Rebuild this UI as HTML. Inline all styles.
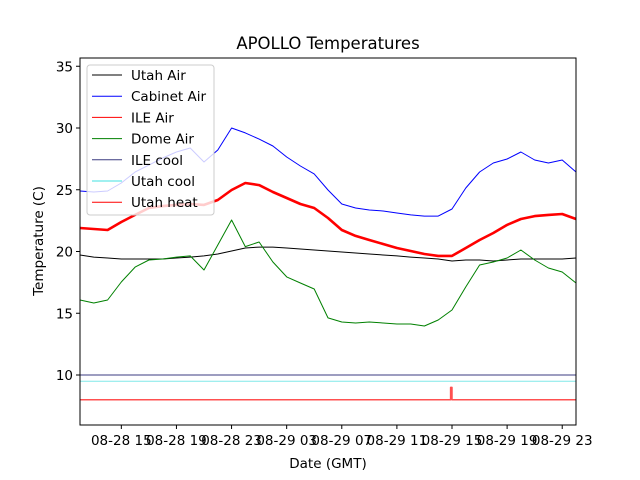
<!DOCTYPE html>
<html><head><meta charset="utf-8"><style>
body{margin:0;background:#fff;}
svg{display:block;font-family:"DejaVu Sans","Liberation Sans",sans-serif;}
</style></head><body>
<svg id="chart" width="640" height="480">
<rect width="640" height="480" fill="#fff"/>
<g id="marks"></g>
<g id="axes"></g>
<g id="legend"></g>
</svg>
<script>
const hours = [12,13,14,15,16,17,18,19,20,21,22,23,24,25,26,27,28,29,30,31,32,33,34,35,36,37,38,39,40,41,42,43,44,45,46,47,48];
const cabinetAir = [24.90,24.82,24.90,25.55,26.44,27.00,27.57,28.06,28.38,27.25,28.22,30.00,29.60,29.10,28.54,27.65,26.92,26.28,24.98,23.85,23.52,23.36,23.28,23.12,22.96,22.87,22.87,23.44,25.14,26.44,27.17,27.49,28.06,27.41,27.17,27.41,26.44];
const ileAir = [21.90,21.82,21.74,22.39,22.96,23.52,23.68,23.77,23.85,23.77,24.17,24.98,25.55,25.38,24.82,24.33,23.85,23.52,22.71,21.74,21.26,20.93,20.61,20.28,20.04,19.80,19.64,19.64,20.28,20.93,21.50,22.15,22.63,22.87,22.96,23.04,22.63];
const utahAir = [19.72,19.55,19.47,19.39,19.39,19.39,19.39,19.47,19.55,19.64,19.80,20.04,20.28,20.36,20.36,20.28,20.20,20.12,20.04,19.96,19.88,19.80,19.72,19.64,19.55,19.47,19.39,19.23,19.31,19.31,19.23,19.31,19.39,19.39,19.39,19.39,19.47];
const domeAir = [16.07,15.83,16.07,17.53,18.74,19.31,19.39,19.55,19.64,18.50,20.53,22.55,20.40,20.77,19.15,17.94,17.45,16.96,14.62,14.29,14.21,14.29,14.21,14.13,14.13,13.97,14.45,15.26,17.13,18.91,19.15,19.47,20.12,19.31,18.66,18.34,17.45];
const ileCool = [10,10];
const utahCool = [9.5,9.5];
const utahHeatHours = [12,38.9,38.9,39.0,39.0,48];
const utahHeat = [8,8,9,9,8,8];
const yTicks = [10,15,20,25,30,35];
const xTickHours = [15,19,23,27,31,35,39,43,47];
const xTickLabels = ["08-28 15","08-28 19","08-28 23","08-29 03","08-29 07","08-29 11","08-29 15","08-29 19","08-29 23"];

const L=80,R=576,T=58,B=425;
function X(h){return L+(h-12)*(R-L)/36;}
function Y(v){return 375-(v-10)*12.35;}
const NS="http://www.w3.org/2000/svg";
function mk(tag,attrs,parent){const e=document.createElementNS(NS,tag);for(const k in attrs)e.setAttribute(k,attrs[k]);parent.appendChild(e);return e;}
const marks=document.getElementById('marks'),axes=document.getElementById('axes'),leg=document.getElementById('legend');

function line(xs,vs,color,w,name){
  const p=xs.map((h,i)=>(i?'L':'M')+X(h).toFixed(1)+','+Y(vs[i]).toFixed(1)).join('');
  const el=mk('path',{d:p,fill:'none',stroke:color,'stroke-width':w,'stroke-linejoin':'round'},marks);
  
  
}
line(hours,utahAir,'#000',1,'utah-air-line');
line(hours,cabinetAir,'#0000ff',1,'cabinet-air-line');
line(hours,ileAir,'#ff0000',2.6,'ile-air-line');
line(hours,domeAir,'#008000',1,'dome-air-line');
line([12,48],ileCool,'#3b3b80',1,'ile-cool-line');
line([12,48],utahCool,'#80e8e8',1,'utah-cool-line');
line(utahHeatHours,utahHeat,'#ff5050',1.5,'utah-heat-line');

const frame=mk('rect',{x:L,y:T,width:R-L,height:B-T,fill:'none',stroke:'#000','stroke-width':1},axes);


yTicks.forEach(v=>{
  mk('line',{x1:L-4,x2:L,y1:Y(v),y2:Y(v),stroke:'#000'},axes);
  const t=mk('text',{x:L-7,y:Y(v)+5,'text-anchor':'end','font-size':'13.5'},axes);
  t.textContent=v;
  
  
});
xTickHours.forEach((h,i)=>{
  mk('line',{x1:X(h),x2:X(h),y1:B,y2:B+4,stroke:'#000'},axes);
  const t=mk('text',{x:X(h),y:B+20,'text-anchor':'middle','font-size':'13.5'},axes);
  t.textContent=xTickLabels[i];
  
  
});
let t=mk('text',{x:328,y:49,'text-anchor':'middle','font-size':'16.5'},axes);t.textContent='APOLLO Temperatures';


t=mk('text',{x:328,y:468,'text-anchor':'middle','font-size':'13.5'},axes);t.textContent='Date (GMT)';


t=mk('text',{x:0,y:0,'text-anchor':'middle','font-size':'13.5',transform:'translate(43,241) rotate(-90)'},axes);t.textContent='Temperature (C)';



const box=mk('rect',{x:87,y:65,width:127,height:150,rx:3,fill:'rgba(255,255,255,0.8)',stroke:'#ccc'},leg);


const names=['Utah Air','Cabinet Air','ILE Air','Dome Air','ILE cool','Utah cool','Utah heat'];
const cols=['#000','#0000ff','#ff0000','#008000','#3b3b80','#40e0e0','#ff0000'];
names.forEach((n,i)=>{
  const y=75+i*21.2;
  const g=mk('g',{},leg);
  
  
  mk('line',{x1:92,x2:122,y1:y,y2:y,stroke:cols[i],'stroke-width':1},g);
  const tt=mk('text',{x:131,y:y+5,'font-size':'13.5'},g);tt.textContent=n;
});
</script>
</body></html>
